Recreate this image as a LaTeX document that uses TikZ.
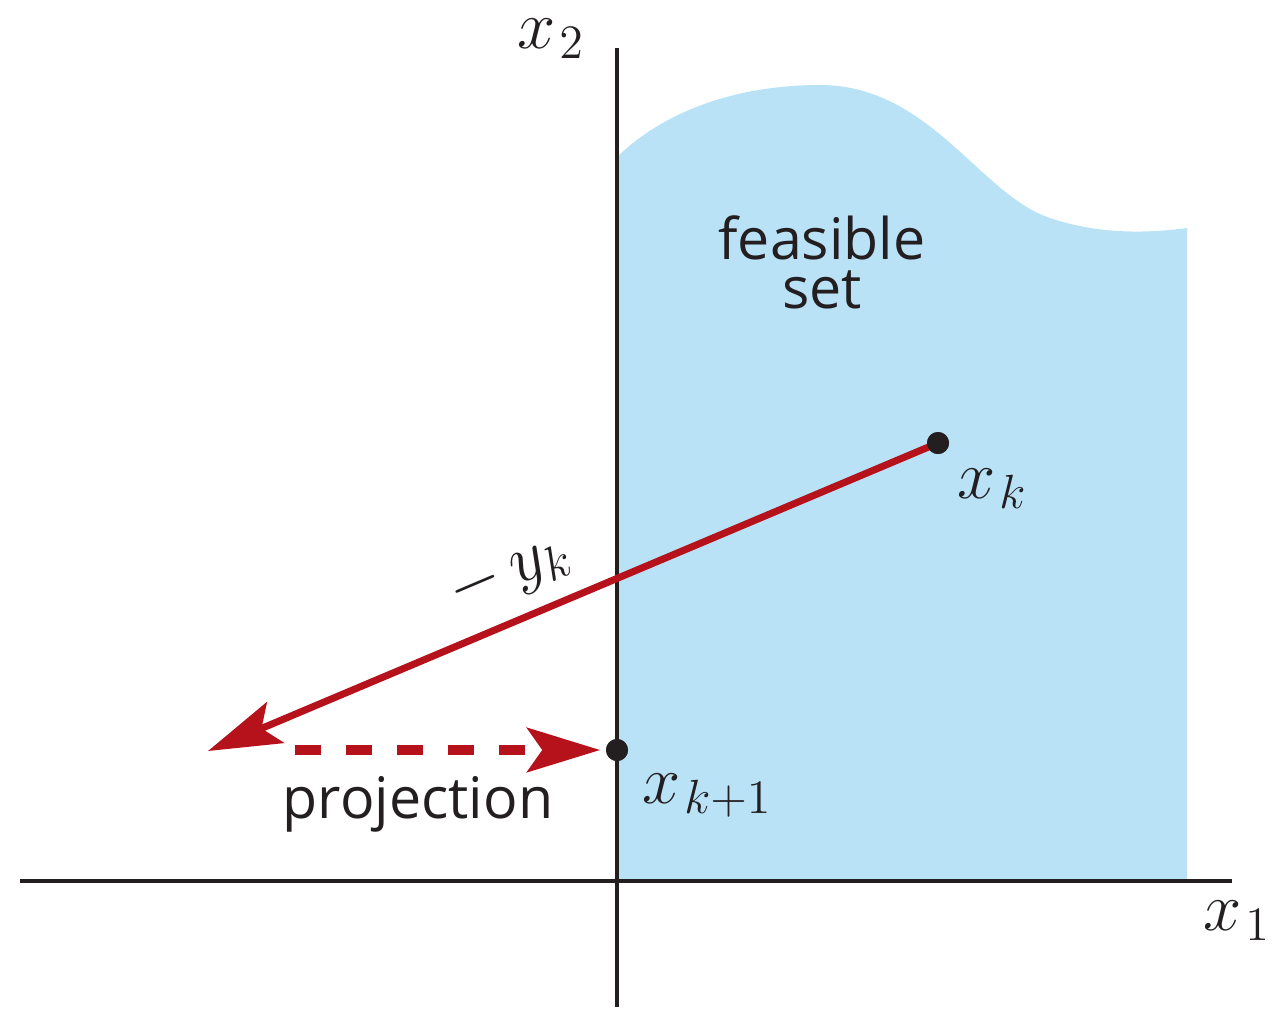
\RequirePackage{fix-cm}
\documentclass[tikz,border=0pt]{standalone}
\usepackage{fontspec}
\setsansfont{Open Sans}
\usetikzlibrary{arrows.meta}
\definecolor{axiscol}{HTML}{231F20}
\definecolor{redcol}{HTML}{B5121B}
\definecolor{bluecol}{HTML}{BAE2F7}
\begin{document}
\begin{tikzpicture}[
  axisline/.style={line width=1.15pt, draw=axiscol},
  redarrow/.style={line width=2pt, draw=redcol,
    -{Stealth[length=7.3mm,width=4.4mm,inset=1.5mm]}},
  projarrow/.style={line width=2.8pt, draw=redcol, dash pattern=on 0.26cm off 0.25cm,
    -{Stealth[length=7.3mm,width=4.4mm,inset=1.5mm]}},
  ptdot/.style={circle, fill=axiscol, inner sep=0pt, minimum size=0.22cm},
  mathlab/.style={inner sep=0pt, text=axiscol, font=\fontsize{19.5}{23}\selectfont},
  sanslab/.style={inner sep=0pt, text=axiscol, font=\sffamily\fontsize{16.3}{13.7}\selectfont}
]
\useasboundingbox (0,0) rectangle (12.84,-10.09);

% feasible set
\fill[bluecol] (6.17,-8.81) -- (6.17,-1.57)
  .. controls (6.60,-1.15) and (7.30,-0.85) .. (8.20,-0.85)
  .. controls (9.30,-0.85) and (9.80,-1.95) .. (10.50,-2.18)
  .. controls (11.00,-2.35) and (11.50,-2.33) .. (11.87,-2.28)
  -- (11.87,-8.81) -- cycle;

% axes
\coordinate (xaxL) at (0.20,-8.81);
\coordinate (xaxR) at (12.32,-8.81);
\coordinate (yaxB) at (6.17,-10.07);
\coordinate (yaxT) at (6.17,-0.48);
\draw[axisline] (xaxL) -- (xaxR);
\draw[axisline] (yaxB) -- (yaxT);

% points
\node[ptdot] (xk) at (9.38,-4.43) {};
\node[ptdot] (xk1) at (6.17,-7.50) {};
\coordinate (tipA) at (2.08,-7.51);
\coordinate (projS) at (2.95,-7.50);

% vectors
\draw[redarrow] (xk.center) -- (tipA);
\draw[projarrow, shorten >=0.05cm] (projS) -- (xk1.west);

% redraw dots on top
\node[ptdot] at (xk) {};
\node[ptdot] at (xk1) {};

% labels
\node[mathlab, anchor=base west] (lx2) at (5.17,-0.48) {$x_{\kern1pt 2}$};
\node[mathlab, anchor=base west] (lx1) at (12.03,-9.30) {$x_{\kern1pt 1}$};
\node[mathlab, anchor=base west] (lxk) at (9.57,-4.98) {$x_{\kern1pt k}$};
\node[mathlab, anchor=base west] (lxk1) at (6.42,-8.03) {$x_{\kern1pt k+1}$};
\node[mathlab, rotate=23] (lyk) at (5.10,-5.74) {$-\,y_{k}$};

\node[sanslab, anchor=base, align=center] (feas) at (8.22,-3.08) {feasible\\set};
\node[sanslab, anchor=base] (proj) at (4.18,-8.18) {projection};
\end{tikzpicture}
\end{document}
